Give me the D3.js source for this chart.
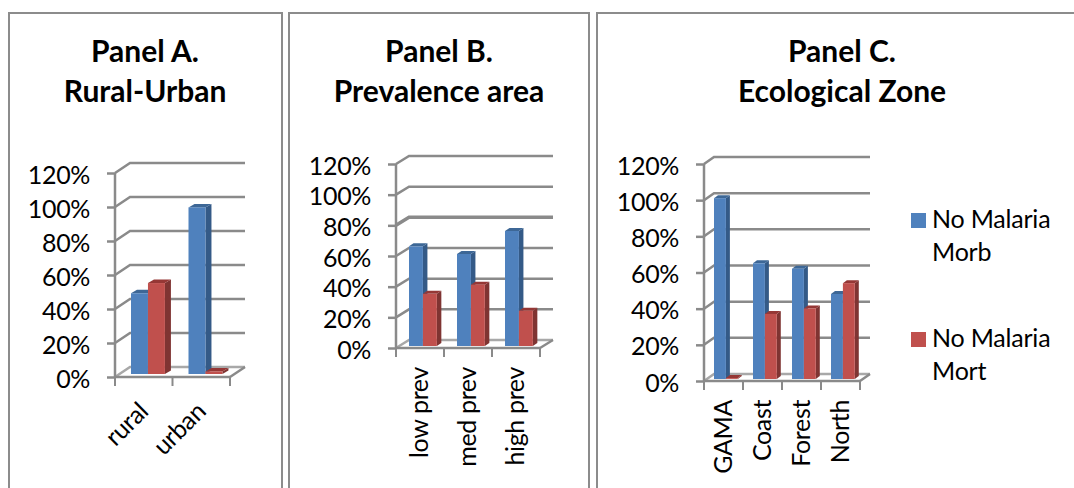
<!DOCTYPE html>
<html>
<head>
<meta charset="utf-8">
<script src="https://cdn.jsdelivr.net/npm/d3@7"></script>
<style>
  html, body { margin: 0; padding: 0; background: #fff; }
  svg { display: block; }
  text { font-family: Lato, "Open Sans", sans-serif; fill: #000; }
</style>
</head>
<body>
<svg id="chart" width="1074" height="488"></svg>
<script>
// Shares of each outcome by subgroup, as percentages.
const seriesNames = ["No Malaria Morb", "No Malaria Mort"];
const percentTicks = [0, 20, 40, 60, 80, 100, 120];

const ruralUrbanCategories = ["rural", "urban"];
const ruralUrbanMorb = [47.5, 98];
const ruralUrbanMort = [53.5, 1.5];

const prevalenceCategories = ["low prev", "med prev", "high prev"];
const prevalenceMorb = [65, 60, 75];
const prevalenceMort = [34, 40, 23];

const zoneCategories = ["GAMA", "Coast", "Forest", "North"];
const zoneMorb = [100, 64, 61, 47];
const zoneMort = [0.5, 36, 39, 53];

const frontColors = ["#4f81bd", "#c0504d"];
const sideColors = ["#345a87", "#7f3432"];
const topColors = ["#3d6796", "#953735"];
const gridColor = "#8a8a8a";
const labelSize = 25;
const labelTracking = "-0.35px";

const svg = d3.select("#chart");

// Panel outlines run off the bottom of the page.
function drawFrame(x0, x1, y) {
  svg.append("path")
    .attr("d", d3.line()([[x0, 488], [x0, y], [x1, y], [x1, 488]]))
    .attr("fill", "none")
    .attr("stroke", "#8c8c8c")
    .attr("stroke-width", 2);
}

function drawPanel(p) {
  const g = svg.append("g");

  // Two-line bold heading
  p.title.forEach((line, i) => {
    g.append("text")
      .attr("x", p.titleX)
      .attr("y", 62 + i * 40)
      .attr("text-anchor", "middle")
      .attr("font-size", 30)
      .attr("font-weight", 700)
      .text(line);
  });

  const y = d3.scaleLinear().domain([0, 120]).range([p.y0, p.yTop]);
  const x = d3.scaleBand().domain(p.categories).range([p.x0, p.x1]);
  const inner = d3.scaleBand()
    .domain(d3.range(seriesNames.length))
    .range([0, x.bandwidth() * p.groupShare]);

  // Back wall gridlines and the wall's receding edges
  const grid = g.append("g")
    .attr("fill", "none")
    .attr("stroke", gridColor)
    .attr("stroke-width", 2.5);
  percentTicks.forEach(t => {
    const py = y(t);
    grid.append("path").attr("d", d3.line()([
      [p.x0, py],
      [p.x0 + p.dx, py - p.dy],
      [p.x1 + p.dx, py - p.dy]
    ]))
      .attr("stroke", t === 0 ? "#a8a8a8" : gridColor)
      .attr("stroke-width", t === p.heavyTick ? 3.5 : 2.5);
  });
  grid.append("path").attr("d", d3.line()([
    [p.x1, p.y0],
    [p.x1 + p.dx, p.y0 - p.dy]
  ]));

  // Value axis
  const yAxis = g.append("g")
    .attr("transform", `translate(${p.x0},0)`)
    .call(d3.axisLeft(y)
      .tickValues(percentTicks)
      .tickSize(8)
      .tickPadding(17)
      .tickFormat(d => d + "%"));
  yAxis.selectAll("path, line").attr("stroke", gridColor).attr("stroke-width", 2.5);
  yAxis.select("path.domain").attr("d", d3.line()([[0, p.y0], [0, p.yTop]]));
  yAxis.selectAll("text")
    .attr("fill", "#000")
    .attr("font-size", labelSize)
    .attr("letter-spacing", labelTracking)
    .attr("font-family", "Lato, 'Open Sans', sans-serif")
    .attr("dy", "0.4em");

  // Category axis: tick marks sit on the band edges, labels are placed separately
  const xAxis = g.append("g")
    .attr("transform", `translate(0,${p.y0})`)
    .call(d3.axisBottom(x).tickSize(0).tickFormat(""));
  xAxis.select("path.domain")
    .attr("d", d3.line()([[p.x0, 0], [p.x1, 0]]))
    .attr("stroke", gridColor)
    .attr("stroke-width", 2.5);
  xAxis.selectAll("g.tick").remove();
  const edges = p.categories.map(c => x(c)).concat(p.x1);
  xAxis.selectAll("line.edge").data(edges).join("line")
    .attr("class", "edge")
    .attr("x1", d => d).attr("x2", d => d)
    .attr("y1", 0).attr("y2", 9)
    .attr("stroke", gridColor)
    .attr("stroke-width", 2);

  g.selectAll("text.cat").data(p.categories).join("text")
    .attr("class", "cat")
    .attr("text-anchor", "end")
    .attr("font-size", labelSize)
    .attr("letter-spacing", labelTracking)
    .attr("transform", c => {
      const cx = x(c) + x.bandwidth() / 2 + p.labelDx;
      return `translate(${cx},${p.labelY}) rotate(${p.labelAngle})`;
    })
    .text(c => c);

  // Pseudo-3D columns: the side and top faces recede by the bar depth
  const baseLift = p.lift;
  p.categories.forEach((c, ci) => {
    p.values.forEach((vals, si) => {
      const left = x(c) + p.barShift + inner(si);
      const right = left + inner.bandwidth();
      const top = y(vals[ci]) - baseLift;
      const bottom = y(0) - baseLift;
      const d = p.depthX, e = p.depthY;
      const bar = g.append("g");
      bar.append("path")
        .attr("d", d3.line()([[right, top], [right + d, top - e], [right + d, bottom - e], [right, bottom]]) + "Z")
        .attr("fill", sideColors[si]);
      bar.append("path")
        .attr("d", d3.line()([[left, top], [left + d, top - e], [right + d, top - e], [right, top]]) + "Z")
        .attr("fill", topColors[si]);
      bar.append("rect")
        .attr("x", left)
        .attr("y", top)
        .attr("width", right - left)
        .attr("height", bottom - top)
        .attr("fill", frontColors[si]);
    });
  });
}

drawFrame(9, 282, 13);
drawFrame(289, 589, 13);
drawFrame(597, 1090, 13);

drawPanel({
  title: ["Panel A.", "Rural-Urban"], titleX: 145,
  categories: ruralUrbanCategories, values: [ruralUrbanMorb, ruralUrbanMort],
  x0: 115, x1: 230, y0: 377, yTop: 173, dx: 15, dy: 10,
  groupShare: 0.59, barShift: 16, lift: 3, depthX: 6, depthY: 3.5,
  labelDx: 6, labelY: 413, labelAngle: -45
});

drawPanel({
  title: ["Panel B.", "Prevalence area"], titleX: 439,
  categories: prevalenceCategories, values: [prevalenceMorb, prevalenceMort],
  x0: 396, x1: 540, y0: 348, yTop: 164, dx: 13, dy: 8, heavyTick: 80,
  groupShare: 0.58, barShift: 13, lift: 2, depthX: 4.5, depthY: 3,
  labelDx: 8, labelY: 367, labelAngle: -90
});

drawPanel({
  title: ["Panel C.", "Ecological Zone"], titleX: 842,
  categories: zoneCategories, values: [zoneMorb, zoneMort],
  x0: 704, x1: 860, y0: 381, yTop: 164, dx: 10, dy: 7,
  groupShare: 0.61, barShift: 10, lift: 2, depthX: 4, depthY: 3,
  labelDx: 8, labelY: 400, labelAngle: -90
});

// Shared legend beside the last panel
const legendRows = [
  { lines: ["No Malaria", "Morb"], top: 213 },
  { lines: ["No Malaria", "Mort"], top: 332 }
];
const legend = svg.append("g");
legendRows.forEach((row, i) => {
  legend.append("rect")
    .attr("x", 911).attr("y", row.top)
    .attr("width", 15).attr("height", 15)
    .attr("fill", frontColors[i]);
  row.lines.forEach((line, j) => {
    legend.append("text")
      .attr("x", 932)
      .attr("y", row.top + 15 + j * 33)
      .attr("font-size", labelSize)
      .attr("letter-spacing", "-0.2px")
      .text(line);
  });
});
</script>
</body>
</html>
